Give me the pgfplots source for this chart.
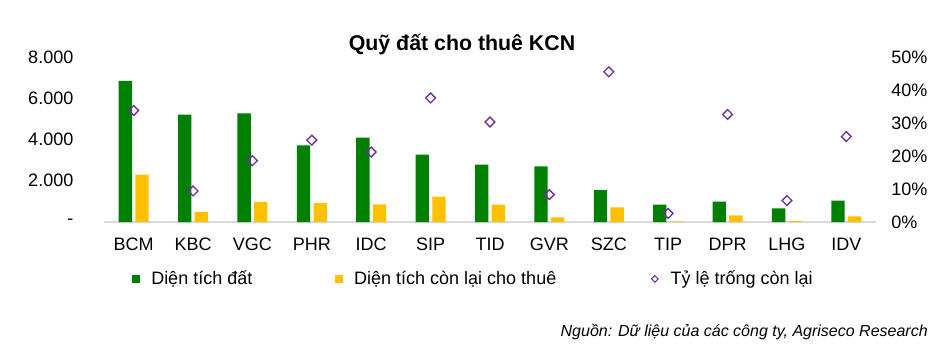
\documentclass[border=0pt]{standalone}
\usepackage{pgfplots}
\pgfplotsset{compat=1.18}
\usepackage{fontspec}
\setmainfont{Liberation Sans}
\definecolor{cgreen}{RGB}{0,128,0}
\definecolor{cyellow}{RGB}{255,192,0}
\definecolor{cpurple}{RGB}{112,48,160}
\definecolor{caxis}{RGB}{217,217,217}
\begin{document}
\begin{tikzpicture}
\path[use as bounding box] (0,0) rectangle (708.75pt,263.25pt);
\begin{axis}[
  at={(78pt,96.75pt)}, anchor=south west,
  scale only axis, width=579pt, height=123.75pt,
  xmin=-0.5, xmax=12.5, ymin=0, ymax=8000,
  ybar=2.5pt, bar width=10pt,
  xtick={0,...,12},
  xticklabels={BCM,KBC,VGC,PHR,IDC,SIP,TID,GVR,SZC,TIP,DPR,LHG,IDV},
  ytick={0,2000,4000,6000,8000},
  yticklabels={-,2.000,4.000,6.000,8.000},
  tick style={draw=none},
  separate axis lines,
  axis x line*=bottom, axis y line*=left,
  x axis line style={draw=caxis, line width=1pt, -},
  y axis line style={draw=none},
  tick label style={font=\fontsize{13.5}{16}\selectfont},
  xticklabel style={yshift=-4pt},
  yticklabel style={xshift=-19.5pt},
  /pgf/number format/assume math mode=true,
  clip=false,
]
\addplot[fill=cgreen, draw=none] coordinates {
 (0,6840) (1,5210) (2,5270) (3,3720) (4,4090) (5,3270) (6,2780)
 (7,2700) (8,1550) (9,840) (10,990) (11,660) (12,1040)};
\addplot[fill=cyellow, draw=none] coordinates {
 (0,2300) (1,490) (2,970) (3,910) (4,860) (5,1230) (6,840)
 (7,230) (8,710) (9,22) (10,320) (11,43) (12,270)};
\end{axis}
\begin{axis}[
  at={(78pt,96.75pt)}, anchor=south west,
  scale only axis, width=579pt, height=123.75pt,
  xmin=-0.5, xmax=12.5, ymin=0, ymax=50,
  axis x line=none,
  axis y line*=right,
  y axis line style={draw=none},
  tick style={draw=none},
  ytick={0,10,20,30,40,50},
  yticklabels={0\%,10\%,20\%,30\%,40\%,50\%},
  tick label style={font=\fontsize{13.5}{16}\selectfont},
  yticklabel style={xshift=8pt},
  /pgf/number format/assume math mode=true,
  clip=false,
  legend columns=3,
  legend cell align=left,
  legend style={at={(0.036,-0.345)}, anchor=west, draw=none, fill=none,
    inner sep=0pt, font=\fontsize{13.5}{16}\selectfont,
    nodes={inner sep=0pt},
    /tikz/every odd column/.append style={column sep=9pt},
    /tikz/column 2/.style={column sep=62pt},
    /tikz/column 4/.style={column sep=71pt}},
]
\addlegendimage{legend image code/.code={\fill[cgreen] (0pt,-2.5pt) rectangle (5pt,2.5pt);}}
\addlegendimage{legend image code/.code={\fill[cyellow] (0pt,-2.5pt) rectangle (5pt,2.5pt);}}
\addlegendimage{legend image code/.code={\draw[cpurple, line width=0.8pt, fill=white] (2.5pt,-2.5pt) -- (5pt,0pt) -- (2.5pt,2.5pt) -- (0pt,0pt) -- cycle;}}
\addplot[only marks, mark=square, mark size=2.6pt,
  mark options={rotate=45, draw=cpurple, fill=white, line width=1pt}, forget plot] coordinates {
 (0,33.8) (1,9.4) (2,18.6) (3,24.8) (4,21.2) (5,37.6) (6,30.3)
 (7,8.3) (8,45.5) (9,2.6) (10,32.6) (11,6.5) (12,25.9)};
\legend{Diện tích đất, Diện tích còn lại cho thuê, Tỷ lệ trống còn lại}
\end{axis}
\node[font=\bfseries\fontsize{16}{19}\selectfont] at (346.5pt,229.5pt) {Quỹ đất cho thuê KCN};
\node[anchor=base east, inner sep=0pt, font=\itshape\fontsize{12}{14}\selectfont] at (696pt,11.25pt) {Nguồn: Dữ liệu của các công ty, Agriseco Research};
\end{tikzpicture}
\end{document}
